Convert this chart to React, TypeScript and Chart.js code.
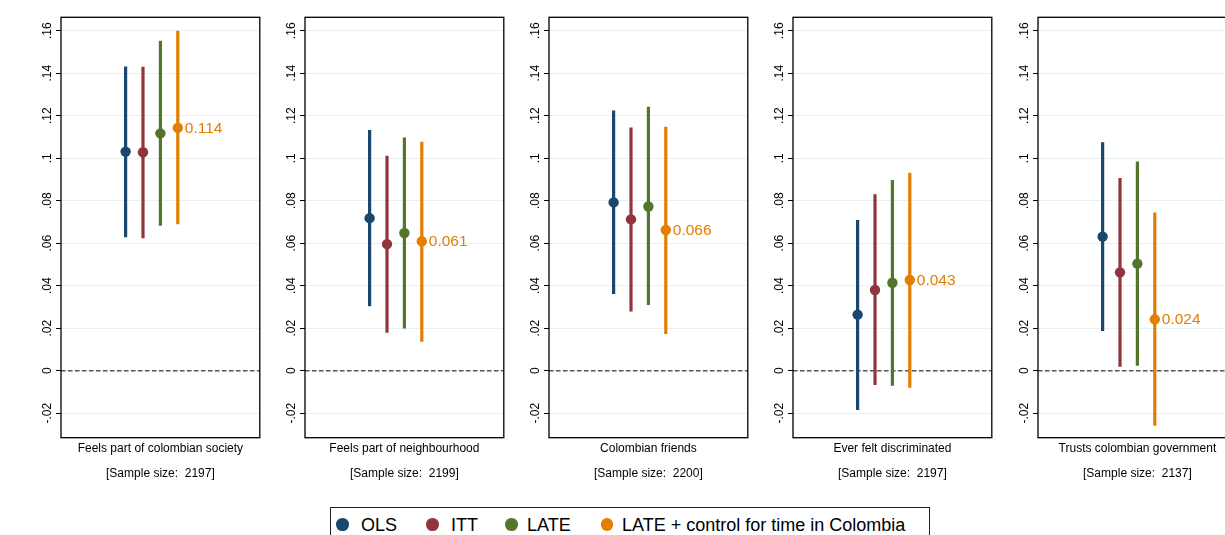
import React, { useEffect, useRef } from "react";
import { Chart, registerables } from "chart.js";

Chart.register(...registerables);

// ---------- data ----------
const seriesNames = ["OLS", "ITT", "LATE", "LATE + control for time in Colombia"];
const seriesColors = ["#1a476f", "#90353b", "#55752f", "#e37e00"];
const seriesX = [2.6, 3.3, 4.0, 4.7];

const outcomes = [
  "Feels part of colombian society",
  "Feels part of neighbourhood",
  "Colombian friends",
  "Ever felt discriminated",
  "Trusts colombian government",
];
const sampleSizes = [2197, 2199, 2200, 2197, 2137];

const olsEst = [0.1031, 0.0718, 0.0792, 0.0264, 0.0631];
const olsLo = [0.0628, 0.0304, 0.0361, -0.0185, 0.0187];
const olsHi = [0.1431, 0.1133, 0.1224, 0.0709, 0.1075];

const ittEst = [0.1028, 0.0596, 0.0712, 0.038, 0.0463];
const ittLo = [0.0623, 0.0179, 0.0279, -0.0067, 0.0019];
const ittHi = [0.143, 0.1012, 0.1145, 0.0831, 0.0907];

const lateEst = [0.1117, 0.0648, 0.0773, 0.0414, 0.0504];
const lateLo = [0.0682, 0.0199, 0.0309, -0.0071, 0.0024];
const lateHi = [0.1553, 0.1098, 0.1242, 0.0897, 0.0984];

const lateCtrlEst = [0.1143, 0.0609, 0.0662, 0.0427, 0.0242];
const lateCtrlLo = [0.0689, 0.0136, 0.0173, -0.008, -0.0259];
const lateCtrlHi = [0.16, 0.1078, 0.1148, 0.0932, 0.0745];

const tickValues = [-0.02, 0, 0.02, 0.04, 0.06, 0.08, 0.1, 0.12, 0.14, 0.16];
const tickLabels = ["-.02", "0", ".02", ".04", ".06", ".08", ".1", ".12", ".14", ".16"];
const yMin = -0.0315;
const yMax = 0.1663;
const xMin = 0;
const xMax = 8;

// ---------- layout ----------
const FONT = '"Liberation Sans", Arial, Helvetica, sans-serif';
const PANEL_LEFT0 = 60.7;
const PANEL_STEP = 244.25;
const PANEL_W = 198.8;
const AXIS_W = 46;
const CANVAS_W = 250;
const CANVAS_H = 485;
const AREA_TOP = 17.3;
const AREA_BOTTOM = 437.7;
const LEGEND_LEFT = 329.5;
const legendMarkerCenters = [342.3, 432.3, 511.7, 607];
const legendTextStarts = [361, 451, 527, 622];

function Panel({ index }: { index: number }) {
  const ref = useRef<HTMLCanvasElement | null>(null);

  useEffect(() => {
    if (!ref.current) return;
    const est = [olsEst, ittEst, lateEst, lateCtrlEst].map((a) => a[index]);
    const lo = [olsLo, ittLo, lateLo, lateCtrlLo].map((a) => a[index]);
    const hi = [olsHi, ittHi, lateHi, lateCtrlHi].map((a) => a[index]);

    const pointSets: any[] = seriesNames.map((name, s) => ({
      type: "scatter",
      label: name,
      data: [{ x: seriesX[s], y: est[s] }],
      pointRadius: 5.2,
      pointHoverRadius: 5.2,
      backgroundColor: seriesColors[s],
      borderWidth: 0,
    }));
    const barSets: any[] = seriesNames.map((name, s) => ({
      type: "line",
      label: name + " CI",
      data: [
        { x: seriesX[s], y: lo[s] },
        { x: seriesX[s], y: hi[s] },
      ],
      borderColor: seriesColors[s],
      borderWidth: 3.2,
      borderCapStyle: "butt",
      pointRadius: 0,
      pointHoverRadius: 0,
      fill: false,
    }));
    const zeroSet: any = {
      type: "line",
      label: "zero",
      data: [
        { x: xMin, y: 0 },
        { x: xMax, y: 0 },
      ],
      borderColor: "#555555",
      borderWidth: 1.5,
      borderDash: [4.5, 2.5],
      pointRadius: 0,
      pointHoverRadius: 0,
      fill: false,
    };

    const labelIndex = 3; // LATE + control point dataset

    const decor = {
      id: "decor" + index,
      afterDraw(chart: any) {
        const { ctx, chartArea: a, scales } = chart;
        const y = scales.y;
        ctx.save();
        // frame
        ctx.strokeStyle = "#000000";
        ctx.lineWidth = 1.3;
        ctx.strokeRect(a.left, a.top, a.right - a.left, a.bottom - a.top);
        // rotated y tick labels
        ctx.fillStyle = "#000000";
        ctx.font = "12px " + FONT;
        ctx.textAlign = "center";
        ctx.textBaseline = "alphabetic";
        tickValues.forEach((v, k) => {
          const py = y.getPixelForValue(v);
          ctx.save();
          ctx.translate(a.left - 10.4, py);
          ctx.rotate(-Math.PI / 2);
          ctx.fillText(tickLabels[k], 0, 0);
          ctx.restore();
        });
        // x labels
        const cx = (a.left + a.right) / 2;
        ctx.textBaseline = "middle";
        ctx.fillText(outcomes[index], cx, a.bottom + 11.3);
        ctx.fillText("[Sample size:  " + sampleSizes[index] + "]", cx, a.bottom + 35.6);
        // value label
        const meta = chart.getDatasetMeta(labelIndex);
        const pt = meta.data[0];
        if (pt) {
          ctx.fillStyle = seriesColors[3];
          ctx.font = "15.5px " + FONT;
          ctx.textAlign = "left";
          ctx.textBaseline = "middle";
          ctx.fillText(lateCtrlEst[index].toFixed(3), pt.x + 7, pt.y + 0.5);
        }
        ctx.restore();
      },
    };

    const chart = new Chart(ref.current, {
      type: "scatter",
      data: { datasets: [...pointSets, ...barSets, zeroSet] },
      options: {
        animation: false,
        responsive: true,
        maintainAspectRatio: false,
        events: [],
        layout: {
          padding: {
            left: 0,
            right: CANVAS_W - AXIS_W - PANEL_W,
            top: AREA_TOP,
            bottom: CANVAS_H - AREA_BOTTOM,
          },
        },
        plugins: {
          legend: { display: false },
          tooltip: { enabled: false },
          title: { display: false },
        },
        scales: {
          x: { type: "linear", min: xMin, max: xMax, display: false },
          y: {
            type: "linear",
            min: yMin,
            max: yMax,
            afterBuildTicks: (s: any) => {
              s.ticks = tickValues.map((v) => ({ value: v }));
            },
            afterFit: (s: any) => {
              s.width = AXIS_W;
            },
            ticks: { display: false },
            grid: {
              color: "#e8f0f1",
              lineWidth: 1,
              tickLength: 5,
              tickColor: "#000000",
              tickWidth: 1,
            },
            border: { display: false },
          },
        },
      },
      plugins: [decor],
    } as any);

    return () => chart.destroy();
  }, [index]);

  const left = PANEL_LEFT0 + PANEL_STEP * index - AXIS_W;
  return (
    <div
      style={{
        position: "absolute",
        left,
        top: 0,
        width: CANVAS_W,
        height: CANVAS_H,
      }}
    >
      <canvas ref={ref} />
    </div>
  );
}

function Legend() {
  const markerSize = 12.7;
  return (
    <div
      style={{
        position: "absolute",
        left: LEGEND_LEFT,
        top: 506.5,
        width: 600,
        height: 35,
        boxSizing: "border-box",
        border: "1px solid #222222",
        fontFamily: FONT,
        fontSize: 18,
        lineHeight: 1,
        color: "#000000",
        whiteSpace: "nowrap",
      }}
    >
      {seriesNames.map((name, s) => (
        <React.Fragment key={name}>
          <span
            style={{
              position: "absolute",
              left: legendMarkerCenters[s] - LEGEND_LEFT - 1 - markerSize / 2,
              top: 17.5 - 1 - markerSize / 2 + 0.5,
              width: markerSize,
              height: markerSize,
              borderRadius: "50%",
              background: seriesColors[s],
            }}
          />
          <span
            style={{
              position: "absolute",
              left: legendTextStarts[s] - LEGEND_LEFT - 1,
              top: 8,
            }}
          >
            {name}
          </span>
        </React.Fragment>
      ))}
    </div>
  );
}

export default function App() {
  return (
    <div
      style={{
        position: "fixed",
        left: 0,
        top: 0,
        width: 1225,
        height: 535,
        overflow: "hidden",
        background: "#ffffff",
      }}
    >
      {outcomes.map((_, i) => (
        <Panel key={i} index={i} />
      ))}
      <Legend />
    </div>
  );
}
